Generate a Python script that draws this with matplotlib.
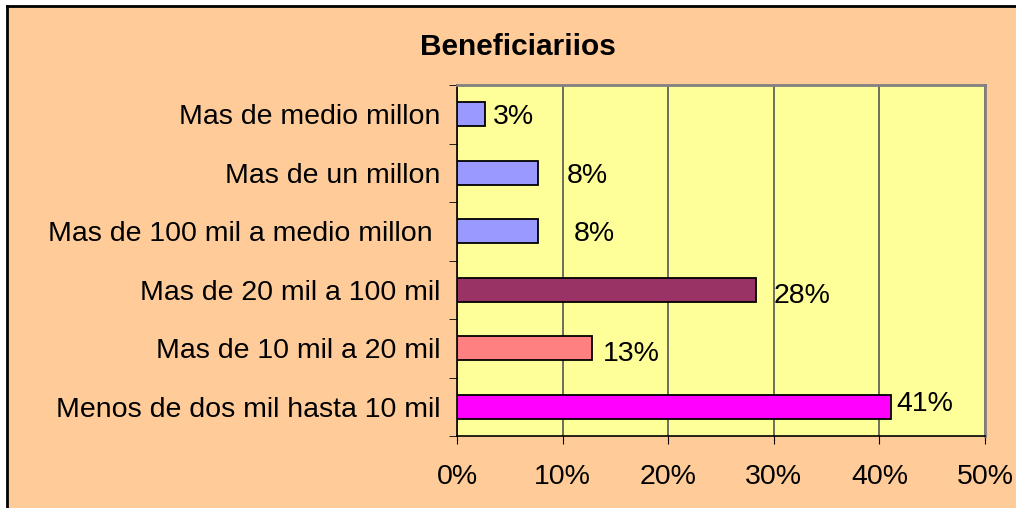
from matplotlib import pyplot as plt
from matplotlib.patches import Rectangle
import numpy as np

categories = ["Menos de dos mil hasta 10 mil", "Mas de 10 mil a 20 mil",
              "Mas de 20 mil a 100 mil", "Mas de 100 mil a medio millon ",
              "Mas de un millon", "Mas de medio millon"]
values = [41.07, 12.8, 28.3, 7.7, 7.7, 2.65]
value_labels = ["41%", "13%", "28%", "8%", "8%", "3%"]
bar_colors = ["#FF00FF", "#FF8080", "#993366", "#9999FF", "#9999FF", "#9999FF"]
# label gap after each bar end and drop below bar centre, in pixels
label_gap = [6, 11, 18, 35, 28, 8]
label_drop = [-6, 3, 3, 0, 0, 0]
x_ticks = [0, 10, 20, 30, 40, 50]

W, H = 1016, 508
plt.rcParams['font.family'] = ['Liberation Sans', 'DejaVu Sans']

fig = plt.figure(figsize=(W / 100, H / 100), dpi=100)
fig.patch.set_facecolor("white")

# ----------------------------------------
# Peach chart area with black top/left border
# ----------------------------------------
fig.patches.append(Rectangle((7 / W, 0), 1 - 7 / W, 1 - 6 / H,
                             transform=fig.transFigure, facecolor="#FFCC99",
                             edgecolor="none", zorder=-10))
fig.add_artist(plt.Line2D([7 / W, 1], [1 - 6 / H, 1 - 6 / H],
                          transform=fig.transFigure, color="black", lw=2))
fig.add_artist(plt.Line2D([7 / W, 7 / W], [0, 1 - 6 / H],
                          transform=fig.transFigure, color="black", lw=2))

ax = fig.add_axes([457 / W, 1 - 436 / H, 528 / W, 351 / H])
ax.set_facecolor("#FFFF99")

y = np.arange(len(categories))
ax.barh(y, values, height=0.41, color=bar_colors, edgecolor="black",
        linewidth=1.3, zorder=3)

for yi, v, lab, gap, drop in zip(y, values, value_labels, label_gap, label_drop):
    ax.annotate(lab, (v, yi), xytext=(gap * 0.72, -drop * 0.72),
                textcoords="offset points", ha="left", va="center_baseline",
                fontsize=20.5, zorder=4)

# ----------------------------------------
# Axes, ticks and grid
# ----------------------------------------
ax.set_xlim(0, 50)
ax.set_ylim(-0.5, len(categories) - 0.5)
ax.set_xticks(x_ticks)
ax.set_xticklabels(["%d%%" % t for t in x_ticks], fontsize=20.5)
ax.set_yticks(y)
ax.set_yticklabels(categories, fontsize=20.5)
ax.set_yticks(np.arange(len(categories) + 1) - 0.5, minor=True)
ax.tick_params(axis="y", which="major", length=0, pad=12)
ax.tick_params(axis="y", which="minor", length=6, direction="out")
ax.tick_params(axis="x", which="major", length=6, direction="out", pad=14)
ax.xaxis.grid(True, color="#555555", linewidth=1.2, zorder=1)
ax.set_axisbelow(True)

for side in ["top", "right"]:
    ax.spines[side].set_color("#808080")
    ax.spines[side].set_linewidth(2)
for side in ["left", "bottom"]:
    ax.spines[side].set_color("black")
    ax.spines[side].set_linewidth(1.2)

fig.text(518 / W, 1 - 47 / H, "Beneficiariios", ha="center", va="center",
         fontsize=21.5, fontweight="bold")

plt.savefig("out.png", dpi=100, facecolor=fig.get_facecolor())
